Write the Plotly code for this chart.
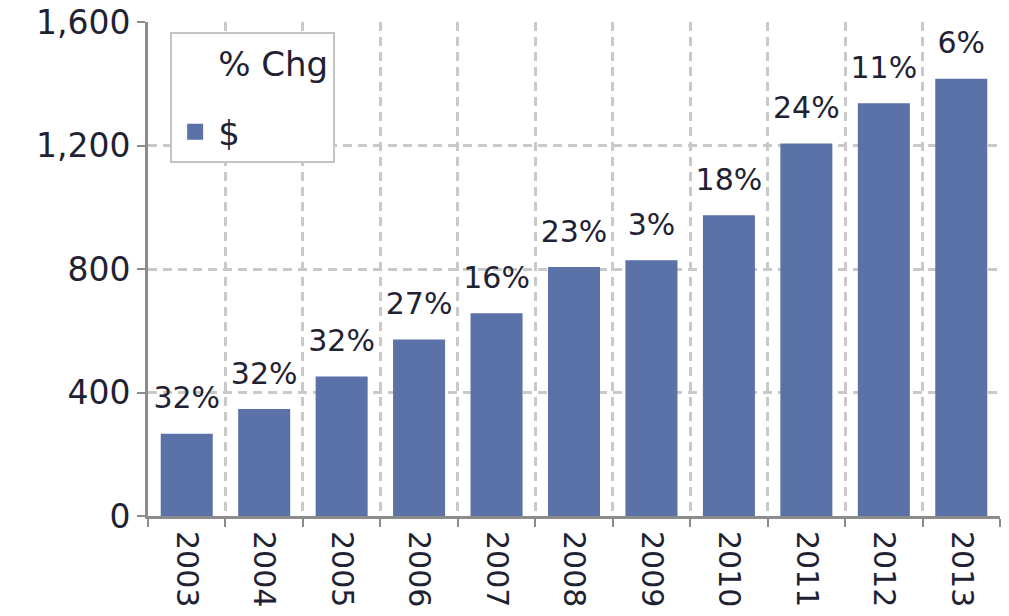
import plotly.graph_objects as go

years = ["2003", "2004", "2005", "2006", "2007", "2008", "2009", "2010", "2011", "2012", "2013"]
dollars = [260, 340, 445, 565, 650, 800, 822, 968, 1200, 1330, 1410]
pct_chg = ["32%", "32%", "32%", "27%", "16%", "23%", "3%", "18%", "24%", "11%", "6%"]
y_ticks = [0, 400, 800, 1200, 1600]

FONT = "DejaVu Sans"
TXT = "#1f2233"
BAR = "#5a72a7"
GRID = "#c9c9c9"
AXIS = "#8c8c8c"

fig = go.Figure()
fig.add_trace(go.Scatter(
    x=years, y=dollars, name="% Chg", mode="markers+text",
    text=pct_chg, textposition="top center",
    textfont=dict(size=30, color=TXT, family=FONT),
    marker=dict(size=30, color="rgba(0,0,0,0)"), legendgroup="a",
    cliponaxis=False, hoverinfo="skip",
))
fig.add_trace(go.Bar(
    x=years, y=dollars, name="$",
    marker=dict(color=BAR, line=dict(width=4, color=BAR)),
    legendgroup="b",
))
fig.update_layout(
    width=1009, height=616,
    margin=dict(l=148, r=9, t=22, b=100, autoexpand=False),
    plot_bgcolor="white", paper_bgcolor="white",
    font=dict(family=FONT, size=30, color=TXT),
    bargap=0.38,
    showlegend=True,
    legend=dict(
        x=0.026, y=0.98, xanchor="left", yanchor="top",
        bordercolor="#c4c4c4", borderwidth=2, bgcolor="white",
        font=dict(size=34, family=FONT, color=TXT),
        traceorder="grouped", tracegroupgap=22,
        itemwidth=36,
    ),
)
fig.update_xaxes(
    type="category", range=[-0.5, 10.5], tickson="boundaries", tickangle=90,
    automargin=False, ticklabelstandoff=6,
    showgrid=True, gridcolor=GRID, griddash="9px,6px", gridwidth=2.5,
    showline=True, linecolor=AXIS, linewidth=3,
    ticks="outside", ticklen=8, tickcolor=AXIS, tickwidth=2,
    tickfont=dict(size=30, family=FONT, color=TXT),
)
fig.update_yaxes(
    range=[0, 1600], tickvals=y_ticks, tickformat=",", automargin=False,
    showgrid=True, gridcolor=GRID, griddash="9px,6px", gridwidth=2.5,
    showline=True, linecolor=AXIS, linewidth=3,
    ticks="outside", ticklen=8, tickcolor=AXIS, tickwidth=2,
    tickfont=dict(size=33, family=FONT, color=TXT),
    zeroline=False,
)
fig.write_html("out.html", config={"displayModeBar": False},
               post_script="document.body.style.margin='0';")
